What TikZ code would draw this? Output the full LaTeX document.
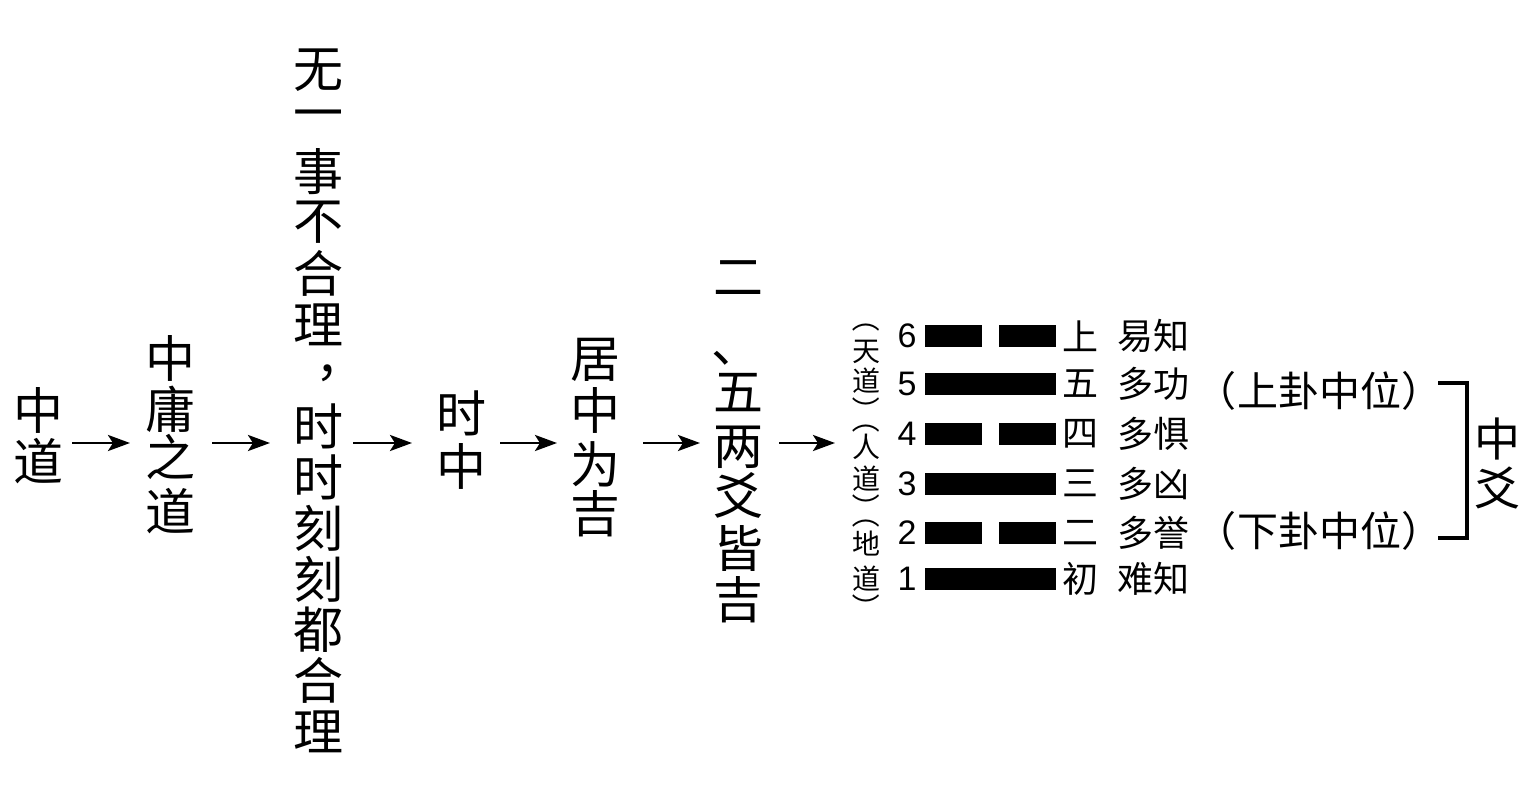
\documentclass[tikz,border=0pt]{standalone}
\usepackage{fontspec}
\setmainfont{Liberation Sans}
\newfontfamily\cjk{Noto Sans CJK SC}
\usetikzlibrary{arrows.meta}
\begin{document}
\begin{tikzpicture}[x=0.5pt,y=-0.5pt,
  big/.style={font=\cjk\fontsize{25}{25}\selectfont,inner sep=0pt},
  zy/.style={font=\cjk\fontsize{23}{23}\selectfont,inner sep=0pt},
  lab/.style={font=\cjk\fontsize{18}{18}\selectfont,inner sep=0pt},
  rlab/.style={font=\cjk\fontsize{20.5}{20.5}\selectfont,inner sep=0pt},
  vlab/.style={font=\cjk\fontsize{14}{14}\selectfont,inner sep=0pt},
  vpar/.style={font=\cjk\fontsize{14}{14}\selectfont,inner sep=0pt,rotate=-90},
  num/.style={font=\fontsize{17}{17}\selectfont,inner sep=0pt},
  arr/.style={-{Stealth[length=11pt,width=8pt,inset=2.5pt]},line width=1.4pt},
  bar/.style={fill=black},
  brk/.style={line width=1.75pt}]
\useasboundingbox[fill=white] (0,0) rectangle (1536,791);

% column 1
\node[big] (c1a) at (38,410) {中};
\node[big] (c1b) at (38,461) {道};
% column 2
\node[big] (c2a) at (170,358) {中};
\node[big] (c2b) at (170,409) {庸};
\node[big] (c2c) at (170,457) {之};
\node[big] (c2d) at (170,511) {道};
% column 3
\foreach \c [count=\i from 0] in {无,一,事,不,合,理}
  \node[big] (c3a\i) at (318,{70+50.9*\i}) {\c};
\node[big] (c3comma) at (340,373) {，};
\foreach \c [count=\i from 7] in {时,时,刻,刻,都,合,理}
  \node[big] (c3b\i) at (318,{70+50.9*\i}) {\c};
% column 4
\node[big] (c4a) at (461,413) {时};
\node[big] (c4b) at (461,466) {中};
% column 5
\node[big] (c5a) at (595,360) {居};
\node[big] (c5b) at (595,410) {中};
\node[big] (c5c) at (595,464) {为};
\node[big] (c5d) at (595,514) {吉};
% column 6
\node[big] (c6a) at (738,278) {二};
\node[big] (c6b) at (736,358) {、};
\node[big] (c6c) at (738,393) {五};
\node[big] (c6d) at (738,447) {两};
\node[big] (c6e) at (738,495) {爻};
\node[big] (c6f) at (738,548) {皆};
\node[big] (c6g) at (738,600) {吉};

% arrows
\coordinate (a1s) at (72,443);  \coordinate (a1e) at (130,443);
\coordinate (a2s) at (212,443); \coordinate (a2e) at (270,443);
\coordinate (a3s) at (353,443); \coordinate (a3e) at (412,443);
\coordinate (a4s) at (500,443); \coordinate (a4e) at (557,443);
\coordinate (a5s) at (643,443); \coordinate (a5e) at (700,443);
\coordinate (a6s) at (779,443); \coordinate (a6e) at (835,443);
\foreach \k in {1,...,6} \draw[arr] (a\k s) -- (a\k e);

% left vertical labels
\node[vpar] (p1o) at (866,318) {（};
\node[vlab] (p1a) at (866,352) {天};
\node[vlab] (p1b) at (866,381) {道};
\node[vpar] (p1c) at (866,410) {）};
\node[vpar] (p2o) at (866,419) {（};
\node[vlab] (p2a) at (866,447) {人};
\node[vlab] (p2b) at (866,479) {道};
\node[vpar] (p2c) at (866,507) {）};
\node[vpar] (p3o) at (866,514) {（};
\node[vlab] (p3a) at (866,544) {地};
\node[vlab] (p3b) at (866,579) {道};
\node[vpar] (p3c) at (866,607) {）};

% hexagram
\foreach \n/\y/\yin/\ya/\yb in {6/336/1/上/易知,5/384/0/五/多功,4/433.5/1/四/多惧,3/483.5/0/三/多凶,2/532.5/1/二/多誉,1/578.5/0/初/难知}{
  \node[num] (n\n) at (907,\y) {\n};
  \ifnum\yin=1
    \fill[bar] (925,\y-11) rectangle (982,\y+11);
    \fill[bar] (999,\y-11) rectangle (1056,\y+11);
  \else
    \fill[bar] (925,\y-11) rectangle (1056,\y+11);
  \fi
  \node[lab] (l\n) at (1080,\y) {\ya};
  \node[lab] (m\n) at (1153,\y) {\yb};
}

% right labels
\node[rlab] (r1o) at (1216,391) {（};
\node[rlab] (r1) at (1319,391) {上卦中位};
\node[rlab] (r1c) at (1422,391) {）};
\node[rlab] (r2o) at (1216,531) {（};
\node[rlab] (r2) at (1319,531) {下卦中位};
\node[rlab] (r2c) at (1422,531) {）};

% bracket
\coordinate (b1) at (1438,383);
\coordinate (b2) at (1467,383);
\coordinate (b3) at (1467,538);
\coordinate (b4) at (1438,538);
\draw[brk] (b1) -- (b2) -- (b3) -- (b4);

\node[zy] (z1) at (1497,439) {中};
\node[zy] (z2) at (1497,488) {爻};
\end{tikzpicture}
\end{document}
